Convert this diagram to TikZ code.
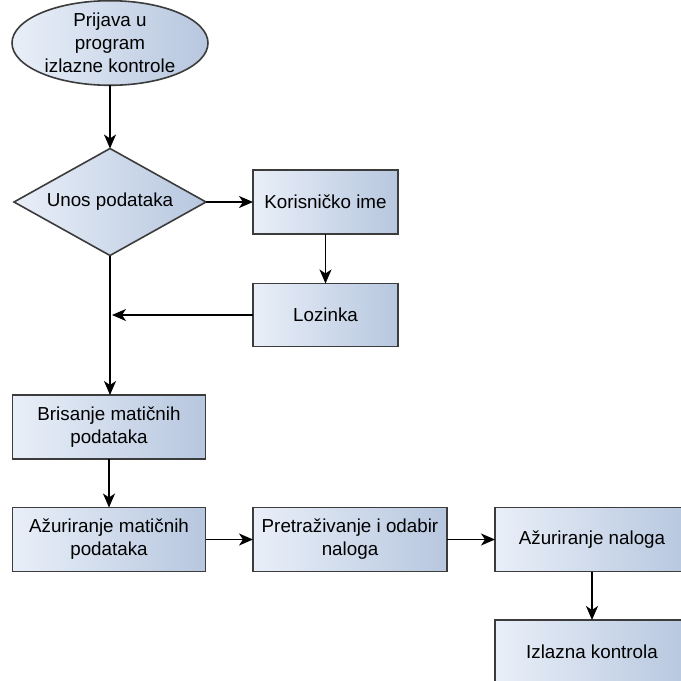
\documentclass[tikz,border=0pt]{standalone}
\usepackage{fontspec}
\setmainfont{Liberation Sans}
\usetikzlibrary{shapes.geometric,arrows.meta}
\definecolor{edgegray}{HTML}{3C3C3C}
\definecolor{fillL}{HTML}{E9EFF8}
\definecolor{fillR}{HTML}{B7C7DF}
\tikzset{
  base/.style={draw=edgegray, line width=1.6pt, left color=fillL, right color=fillR,
    inner sep=0pt, outer sep=0pt, align=center, font=\fontsize{18.8}{23}\selectfont},
  procbox/.style={base, rectangle, minimum width=194pt, minimum height=64pt},
  smallbox/.style={base, rectangle, minimum width=145pt, minimum height=64pt},
  startell/.style={base, ellipse, minimum width=196pt, minimum height=82pt},
  decis/.style={base, diamond, shape aspect=1.8, minimum width=192pt, minimum height=107pt},
  conn/.style={draw=black, line width=1.6pt, -{Stealth[length=14pt,width=12pt,inset=4pt]}}
}
\begin{document}
\begin{tikzpicture}[x=1pt,y=-1pt]
\useasboundingbox (0,0) rectangle (681,681);
\fill[white] (0,0) rectangle (681,681);
\clip (0,0) rectangle (681,681);
\node[startell] (start) at (110,43) {Prijava u\\program\\izlazne kontrole};
\node[decis] (unos) at (110,202) {Unos podataka};
\node[smallbox] (kor) at (325.5,202) {Korisničko ime};
\node[smallbox, minimum height=63pt] (loz) at (325.5,315) {Lozinka};
\node[procbox, minimum width=193pt] (bris) at (109,427) {Brisanje matičnih\\podataka};
\node[procbox, minimum width=193pt] (azm) at (109,539.5) {Ažuriranje matičnih\\podataka};
\node[procbox] (pre) at (350,539.5) {Pretraživanje i odabir\\naloga};
\node[procbox] (azn) at (592,539.5) {Ažuriranje naloga};
\node[procbox] (izl) at (592,652) {Izlazna kontrola};
\coordinate (jt) at (112,315);
\draw[conn] (start) -- (unos);
\draw[conn] (unos) -- (kor);
\draw[conn] (kor) -- (loz);
\draw[conn] (loz) -- (jt);
\draw[conn] (unos.south) -- (unos.south |- bris.north);
\draw[conn] (bris) -- (azm);
\draw[conn] (azm) -- (pre);
\draw[conn] (pre) -- (azn);
\draw[conn] (azn) -- (izl);
\end{tikzpicture}
\end{document}
